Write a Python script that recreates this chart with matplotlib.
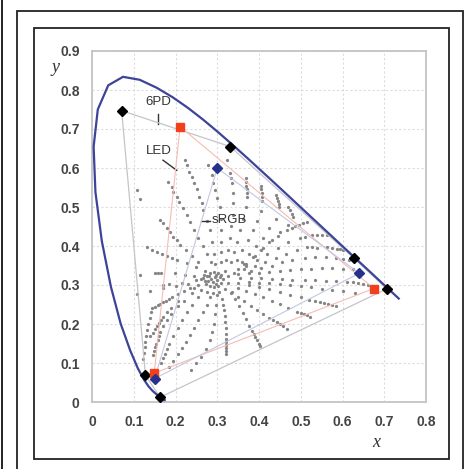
import matplotlib
matplotlib.use('Agg')
import matplotlib.pyplot as plt
from matplotlib.lines import Line2D
from matplotlib.patches import Rectangle
import numpy as np

# CIE 1931 spectral locus, 380..660 nm in 5 nm steps, then 700 nm
locus_x = [0.1741, 0.1740, 0.1738, 0.1736, 0.1733, 0.1730, 0.1726, 0.1721, 0.1714, 0.1703,
           0.1689, 0.1669, 0.1644, 0.1611, 0.1566, 0.1510, 0.1440, 0.1355, 0.1241, 0.1096,
           0.0913, 0.0687, 0.0454, 0.0235, 0.0082, 0.0039, 0.0139, 0.0389, 0.0743, 0.1142,
           0.1547, 0.1929, 0.2296, 0.2658, 0.3016, 0.3373, 0.3731, 0.4087, 0.4441, 0.4788,
           0.5125, 0.5448, 0.5752, 0.6029, 0.6270, 0.6482, 0.6658, 0.6801, 0.6915, 0.7006,
           0.7079, 0.7140, 0.7190, 0.7230, 0.7260, 0.7283, 0.7300, 0.7347]
locus_y = [0.0050, 0.0050, 0.0049, 0.0049, 0.0048, 0.0048, 0.0048, 0.0048, 0.0051, 0.0058,
           0.0069, 0.0086, 0.0109, 0.0138, 0.0177, 0.0227, 0.0297, 0.0399, 0.0578, 0.0868,
           0.1327, 0.2007, 0.2950, 0.4127, 0.5384, 0.6548, 0.7502, 0.8120, 0.8338, 0.8262,
           0.8059, 0.7816, 0.7543, 0.7243, 0.6923, 0.6589, 0.6245, 0.5896, 0.5547, 0.5202,
           0.4866, 0.4544, 0.4242, 0.3965, 0.3725, 0.3514, 0.3340, 0.3197, 0.3083, 0.2993,
           0.2920, 0.2859, 0.2809, 0.2770, 0.2740, 0.2717, 0.2700, 0.2653]

# primaries, in the order the gamut outline is drawn
pd6_x = [0.071, 0.331, 0.628, 0.706, 0.163, 0.128]
pd6_y = [0.747, 0.655, 0.368, 0.290, 0.012, 0.069]
led_x = [0.211, 0.675, 0.149]
led_y = [0.706, 0.291, 0.074]
srgb_x = [0.300, 0.640, 0.150]
srgb_y = [0.600, 0.330, 0.060]

# gray sample points
dots_left = [
    (0.115, 0.326), (0.150, 0.330), (0.158, 0.330), (0.166, 0.330), (0.199, 0.330),
    (0.222, 0.326), (0.245, 0.322), (0.265, 0.318),
    (0.107, 0.276), (0.140, 0.285), (0.170, 0.292), (0.200, 0.298), (0.230, 0.303),
    (0.143, 0.240), (0.150, 0.244), (0.157, 0.248), (0.164, 0.252), (0.171, 0.256),
    (0.178, 0.260), (0.185, 0.264), (0.192, 0.268), (0.205, 0.276), (0.220, 0.284),
    (0.235, 0.292),
    (0.131, 0.398), (0.143, 0.391), (0.155, 0.385), (0.167, 0.379), (0.179, 0.374),
    (0.191, 0.368), (0.203, 0.364), (0.227, 0.356), (0.250, 0.345), (0.270, 0.335),
    (0.163, 0.467), (0.171, 0.458), (0.179, 0.445), (0.187, 0.437), (0.195, 0.424),
    (0.203, 0.415), (0.211, 0.403), (0.225, 0.390), (0.240, 0.375), (0.255, 0.360),
    (0.170, 0.300), (0.185, 0.302), (0.215, 0.306),
]
dots_top = [
    (0.107, 0.544), (0.114, 0.520),
    (0.183, 0.565), (0.191, 0.552), (0.195, 0.539), (0.203, 0.526), (0.209, 0.514),
    (0.219, 0.497), (0.227, 0.479), (0.235, 0.462), (0.245, 0.440), (0.255, 0.420),
    (0.265, 0.400), (0.275, 0.380), (0.285, 0.360),
    (0.223, 0.621), (0.227, 0.608), (0.233, 0.591), (0.239, 0.578), (0.244, 0.561),
    (0.251, 0.545), (0.257, 0.526), (0.263, 0.509), (0.267, 0.492), (0.275, 0.465),
    (0.282, 0.440), (0.288, 0.410), (0.292, 0.380), (0.295, 0.355),
    (0.279, 0.608), (0.287, 0.582), (0.291, 0.561), (0.295, 0.544), (0.300, 0.522),
    (0.307, 0.501), (0.308, 0.470), (0.309, 0.440), (0.309, 0.410), (0.309, 0.385),
    (0.308, 0.360),
    (0.323, 0.621), (0.331, 0.586), (0.332, 0.575), (0.335, 0.561), (0.337, 0.535),
    (0.338, 0.509), (0.337, 0.480), (0.334, 0.450), (0.330, 0.420), (0.326, 0.390),
    (0.322, 0.365),
    (0.369, 0.575), (0.370, 0.565), (0.370, 0.555), (0.371, 0.545), (0.371, 0.535),
    (0.371, 0.525), (0.368, 0.500), (0.362, 0.470), (0.355, 0.440), (0.347, 0.410),
    (0.340, 0.385), (0.333, 0.360),
    (0.404, 0.555), (0.405, 0.545), (0.406, 0.535), (0.407, 0.525), (0.408, 0.515),
    (0.405, 0.490), (0.395, 0.465), (0.385, 0.440), (0.373, 0.415), (0.360, 0.390),
    (0.348, 0.365),
    (0.441, 0.532), (0.443, 0.524), (0.445, 0.516), (0.447, 0.508), (0.449, 0.500),
    (0.440, 0.470), (0.425, 0.445), (0.410, 0.420), (0.393, 0.400), (0.377, 0.380),
    (0.360, 0.360),
    (0.470, 0.500), (0.474, 0.492), (0.478, 0.483), (0.482, 0.474), (0.470, 0.455),
    (0.450, 0.435), (0.430, 0.415), (0.410, 0.395), (0.390, 0.375), (0.370, 0.355),
]
dots_right = [
    (0.514, 0.462), (0.505, 0.458), (0.496, 0.454), (0.487, 0.450), (0.478, 0.446),
    (0.466, 0.441), (0.445, 0.425), (0.425, 0.410), (0.405, 0.390), (0.385, 0.372),
    (0.365, 0.355),
    (0.562, 0.428), (0.550, 0.428), (0.538, 0.429), (0.526, 0.428), (0.510, 0.423),
    (0.498, 0.420), (0.470, 0.410), (0.445, 0.395), (0.420, 0.380), (0.395, 0.365),
    (0.370, 0.350), (0.350, 0.340),
    (0.600, 0.390), (0.594, 0.392), (0.586, 0.392), (0.574, 0.394), (0.562, 0.397),
    (0.538, 0.396), (0.526, 0.397), (0.514, 0.398), (0.490, 0.390), (0.465, 0.380),
    (0.440, 0.370), (0.415, 0.360), (0.390, 0.350), (0.365, 0.340), (0.340, 0.330),
    (0.615, 0.365), (0.600, 0.367), (0.585, 0.369), (0.560, 0.371), (0.535, 0.372),
    (0.510, 0.370), (0.480, 0.365), (0.455, 0.358), (0.430, 0.350), (0.405, 0.343),
    (0.380, 0.336),
    (0.625, 0.340), (0.600, 0.342), (0.575, 0.343), (0.550, 0.343), (0.525, 0.342),
    (0.500, 0.340), (0.475, 0.338), (0.450, 0.336), (0.425, 0.334), (0.400, 0.332),
    (0.375, 0.330), (0.350, 0.328),
    (0.660, 0.300), (0.648, 0.303), (0.637, 0.305), (0.625, 0.307), (0.610, 0.308),
    (0.585, 0.310), (0.560, 0.311), (0.535, 0.312), (0.510, 0.313), (0.480, 0.314),
    (0.455, 0.315), (0.430, 0.316), (0.405, 0.317), (0.380, 0.318), (0.355, 0.318),
    (0.630, 0.280), (0.600, 0.285), (0.575, 0.288), (0.550, 0.291), (0.525, 0.294),
    (0.500, 0.297), (0.475, 0.300), (0.450, 0.302), (0.425, 0.304), (0.400, 0.306),
    (0.375, 0.308),
]
dots_bottom = [
    (0.585, 0.245), (0.575, 0.248), (0.565, 0.251), (0.555, 0.254), (0.545, 0.257),
    (0.535, 0.259), (0.520, 0.262), (0.500, 0.268), (0.475, 0.275), (0.450, 0.282),
    (0.425, 0.289), (0.400, 0.295), (0.375, 0.300), (0.350, 0.305),
    (0.522, 0.218), (0.515, 0.222), (0.508, 0.225), (0.500, 0.229), (0.492, 0.232),
    (0.470, 0.242), (0.450, 0.251), (0.430, 0.260), (0.410, 0.268), (0.390, 0.276),
    (0.370, 0.284), (0.350, 0.292),
    (0.466, 0.188), (0.458, 0.194), (0.450, 0.200), (0.442, 0.206), (0.434, 0.211),
    (0.425, 0.216), (0.410, 0.225), (0.395, 0.236), (0.380, 0.247), (0.365, 0.258),
    (0.350, 0.270), (0.335, 0.282),
    (0.403, 0.143), (0.399, 0.150), (0.395, 0.158), (0.391, 0.166), (0.387, 0.174),
    (0.383, 0.182), (0.377, 0.195), (0.369, 0.212), (0.361, 0.229), (0.352, 0.246),
    (0.343, 0.263), (0.334, 0.280),
    (0.322, 0.122), (0.322, 0.130), (0.322, 0.138), (0.322, 0.146), (0.322, 0.154),
    (0.322, 0.162), (0.321, 0.175), (0.320, 0.190), (0.319, 0.205), (0.318, 0.220),
    (0.316, 0.235), (0.314, 0.250), (0.312, 0.265),
    (0.238, 0.082), (0.250, 0.099), (0.262, 0.116), (0.274, 0.137), (0.282, 0.160),
    (0.288, 0.180), (0.292, 0.200), (0.295, 0.225), (0.297, 0.250), (0.299, 0.275),
    (0.185, 0.090), (0.195, 0.105), (0.205, 0.122), (0.215, 0.138), (0.225, 0.155),
    (0.235, 0.172), (0.245, 0.190), (0.255, 0.210), (0.265, 0.230), (0.275, 0.250),
    (0.283, 0.270),
    (0.165, 0.100), (0.170, 0.112), (0.175, 0.124), (0.180, 0.136), (0.185, 0.148),
    (0.195, 0.170), (0.205, 0.190), (0.215, 0.210), (0.228, 0.230), (0.240, 0.250),
    (0.255, 0.270),
    (0.145, 0.120), (0.148, 0.130), (0.151, 0.140), (0.154, 0.150), (0.157, 0.160),
    (0.160, 0.170), (0.163, 0.180), (0.170, 0.195), (0.180, 0.210), (0.190, 0.225),
    (0.205, 0.245), (0.220, 0.260), (0.240, 0.280),
    (0.140, 0.170), (0.145, 0.178), (0.150, 0.186), (0.155, 0.194), (0.160, 0.202),
    (0.165, 0.210), (0.170, 0.218), (0.180, 0.230), (0.190, 0.242), (0.205, 0.258),
    (0.122, 0.110), (0.124, 0.125), (0.126, 0.140), (0.128, 0.155), (0.130, 0.170),
    (0.132, 0.185), (0.135, 0.200), (0.138, 0.215), (0.141, 0.230),
]
dots_centre = [
    (0.270, 0.310), (0.275, 0.322), (0.282, 0.330), (0.292, 0.334), (0.302, 0.332),
    (0.310, 0.326), (0.313, 0.316), (0.310, 0.305), (0.302, 0.298), (0.292, 0.296),
    (0.282, 0.298), (0.274, 0.303), (0.285, 0.315), (0.295, 0.320), (0.300, 0.312),
    (0.290, 0.307), (0.255, 0.300), (0.262, 0.315), (0.268, 0.325), (0.318, 0.335),
    (0.325, 0.322), (0.262, 0.288), (0.275, 0.283), (0.290, 0.280), (0.305, 0.283),
    (0.318, 0.290), (0.325, 0.305), (0.248, 0.312), (0.245, 0.292), (0.280, 0.322),
    (0.298, 0.326), (0.306, 0.320), (0.296, 0.303), (0.278, 0.309),
]

fig = plt.figure(figsize=(4.69, 4.69), dpi=100)
W, H = 469, 469

# picture frames
frame_col = '#222222'
fig.add_artist(Line2D([1.5 / W, 1.5 / W], [0, 1], color=frame_col, lw=1.4))
fig.add_artist(Rectangle((17 / W, -0.02), (463 - 17) / W, (469 - 11) / H + 0.02,
                         fill=False, ec=frame_col, lw=1.3))
fig.add_artist(Rectangle((34 / W, (469 - 459) / H), (449 - 34) / W, (459 - 28) / H,
                         fill=False, ec=frame_col, lw=1.3))

ax = fig.add_axes([92 / W, (469 - 402) / H, (426 - 92) / W, (402 - 51) / H])
ax.set_xlim(0, 0.8)
ax.set_ylim(0, 0.9)
ax.set_xticks(np.arange(0, 0.81, 0.1))
ax.set_yticks(np.arange(0, 0.91, 0.1))
ax.set_xticklabels(['0', '0.1', '0.2', '0.3', '0.4', '0.5', '0.6', '0.7', '0.8'])
ax.set_yticklabels(['0', '0.1', '0.2', '0.3', '0.4', '0.5', '0.6', '0.7', '0.8', '0.9'])
ax.tick_params(length=0, pad=9, labelsize=10, labelcolor='#444444')
for lab in ax.get_xticklabels() + ax.get_yticklabels():
    lab.set_fontfamily('Liberation Sans')
    lab.set_fontweight('bold')
ax.grid(True, color='#dcdcdc', lw=0.8, ls=(0, (2, 2)))
ax.set_axisbelow(True)
for s in ax.spines.values():
    s.set_color('#c4c4c4')
    s.set_linewidth(1.3)

# gray samples
pts = np.array(dots_left + dots_top + dots_right + dots_bottom + dots_centre)
ax.scatter(pts[:, 0], pts[:, 1], s=5.5, color='#858585', lw=0, zorder=2)

# gamut outlines
ax.plot(pd6_x + pd6_x[:1], pd6_y + pd6_y[:1], color='#c4c4cc', lw=0.9, zorder=3)
ax.plot(led_x + led_x[:1], led_y + led_y[:1], color='#f6bcb4', lw=0.8, zorder=3)
ax.plot(srgb_x + srgb_x[:1], srgb_y + srgb_y[:1], color='#c2c8e0', lw=0.8, zorder=3)

# spectral locus
ax.plot(locus_x, locus_y, color='#3d4399', lw=1.6, zorder=4)

# primaries
ax.plot(pd6_x, pd6_y, 'D', color='black', ms=5, zorder=5)
ax.plot(led_x, led_y, 's', color='#f2401e', ms=5.5, zorder=5)
ax.plot(srgb_x, srgb_y, 'D', color='#25318a', ms=5, zorder=6)

# labels with leader lines
txt = dict(fontsize=9.5, color='#333333', family='Liberation Sans')
ax.text(0.159, 0.770, '6PD', ha='center', va='center', **txt)
ax.plot([0.159, 0.159], [0.738, 0.712], color='#333333', lw=1)
ax.text(0.160, 0.644, 'LED', ha='center', va='center', **txt)
ax.plot([0.170, 0.203], [0.620, 0.594], color='#333333', lw=1)
ax.text(0.287, 0.466, 'sRGB', ha='left', va='center', **txt)
ax.plot([0.262, 0.283], [0.464, 0.464], color='#333333', lw=1)

ax.set_xlabel('x', family='Liberation Serif', style='italic', fontsize=13,
              color='#333333')
ax.xaxis.set_label_coords(0.85, -0.09)
ax.set_ylabel('y', family='Liberation Serif', style='italic', fontsize=13,
              color='#333333', rotation=0)
ax.yaxis.set_label_coords(-0.11, 0.93)

fig.savefig('out.png', dpi=100)
